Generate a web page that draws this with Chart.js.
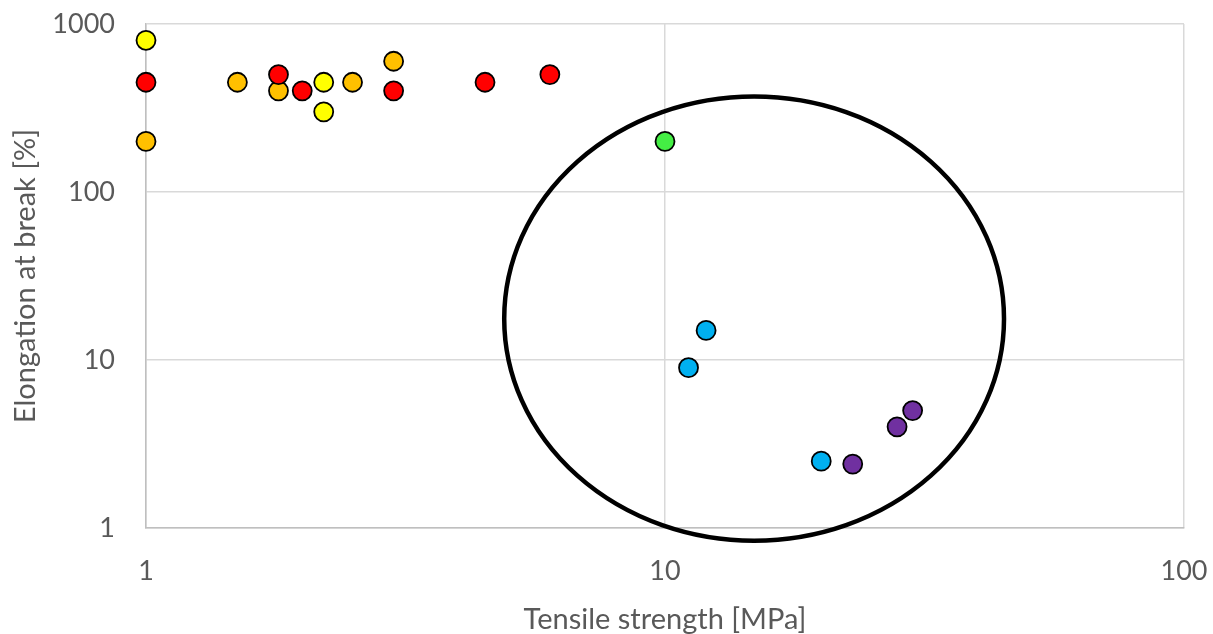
<!DOCTYPE html>
<html>
<head>
<meta charset="utf-8">
<script src="https://cdn.jsdelivr.net/npm/chart.js@4/dist/chart.umd.min.js"></script>
<style>
html,body{margin:0;padding:0;background:#fff;}
#wrap{width:1213px;height:634px;position:relative;}
</style>
</head>
<body>
<div id="wrap"><canvas id="c" width="1213" height="634"></canvas></div>
<script>
// ---- data ----
const yellowX = [1, 2.2, 2.2];
const yellowY = [800, 450, 300];
const orangeX = [1, 1.5, 1.8, 2.5, 3];
const orangeY = [200, 450, 400, 450, 600];
const redX = [1, 1.8, 2, 3, 4.5, 6];
const redY = [450, 500, 400, 400, 450, 500];
const greenX = [10];
const greenY = [200];
const blueX = [12, 11.1, 20];
const blueY = [15, 9, 2.5];
const purpleX = [23, 28, 30];
const purpleY = [2.4, 4, 5];
const xTicks = [1, 10, 100];
const yTicks = [1, 10, 100, 1000];
const xTitle = 'Tensile strength [MPa]';
const yTitle = 'Elongation at break [%]';
// ellipse bounds in data units (x: left,right ; y: top,bottom)
const ellipseX = [4.9, 45];
const ellipseY = [370, 0.84];

function pts(xs, ys){ return xs.map((x,i)=>({x:x, y:ys[i]})); }
function ds(label, xs, ys, color){
  return {label, data: pts(xs, ys), backgroundColor: color, borderColor: '#000',
    borderWidth: 1.8, pointRadius: 9.5, pointHoverRadius: 9.5, clip: false};
}

const FONT = 'Lato, "Liberation Sans", sans-serif';
const GREY = '#595959';

const ellipsePlugin = {
  id: 'ellipse',
  afterDatasetsDraw(chart){
    const xs = chart.scales.x, ys = chart.scales.y;
    const l = xs.getPixelForValue(ellipseX[0]), r = xs.getPixelForValue(ellipseX[1]);
    const t = ys.getPixelForValue(ellipseY[0]), b = ys.getPixelForValue(ellipseY[1]);
    const ctx = chart.ctx;
    ctx.save();
    ctx.beginPath();
    ctx.ellipse((l+r)/2, (t+b)/2, (r-l)/2, (b-t)/2, 0, 0, Math.PI*2);
    ctx.lineWidth = 4.5;
    ctx.strokeStyle = '#000';
    ctx.stroke();
    ctx.restore();
  }
};

new Chart(document.getElementById('c'), {
  type: 'scatter',
  data: {
    datasets: [
      ds('Yellow', yellowX, yellowY, '#ffff00'),
      ds('Red', redX, redY, '#ff0000'),
      ds('Orange', orangeX, orangeY, '#ffc000'),
      ds('Green', greenX, greenY, '#44ee44'),
      ds('Blue', blueX, blueY, '#00b0f0'),
      ds('Purple', purpleX, purpleY, '#7030a0')
    ]
  },
  options: {
    responsive: false,
    animation: false,
    devicePixelRatio: 1,
    layout: {padding: {top: 24, right: 29, left: 0, bottom: 0}},
    plugins: {legend: {display: false}, tooltip: {enabled: false}},
    scales: {
      x: {
        type: 'logarithmic', min: 1, max: 100,
        afterBuildTicks(s){ s.ticks = xTicks.map(v=>({value:v})); },
        afterFit(s){ s.height = 106; s.paddingLeft = 0; s.paddingRight = 0; },
        ticks: {callback: v => String(v), color: GREY, font: {family: FONT, size: 27}, padding: 27, maxRotation: 0, autoSkip: false},
        grid: {color: '#d9d9d9', lineWidth: 1.5, drawTicks: false},
        border: {color: '#bfbfbf', width: 1.5},
        title: {display: true, text: xTitle, color: GREY, font: {family: FONT, size: 29}, padding: {top: 10, bottom: -3}}
      },
      y: {
        type: 'logarithmic', min: 1, max: 1000,
        afterBuildTicks(s){ s.ticks = yTicks.map(v=>({value:v})); },
        afterFit(s){ s.width = 146; s.paddingTop = 0; s.paddingBottom = 0; },
        ticks: {callback: v => String(v), color: GREY, font: {family: FONT, size: 27}, padding: 31, autoSkip: false},
        grid: {color: '#d9d9d9', lineWidth: 1.5, drawTicks: false},
        border: {color: '#bfbfbf', width: 1.5},
        title: {display: true, text: yTitle, color: GREY, font: {family: FONT, size: 29}, padding: {top: 8, bottom: 0}}
      }
    }
  },
  plugins: [ellipsePlugin]
});
</script>
</body>
</html>
